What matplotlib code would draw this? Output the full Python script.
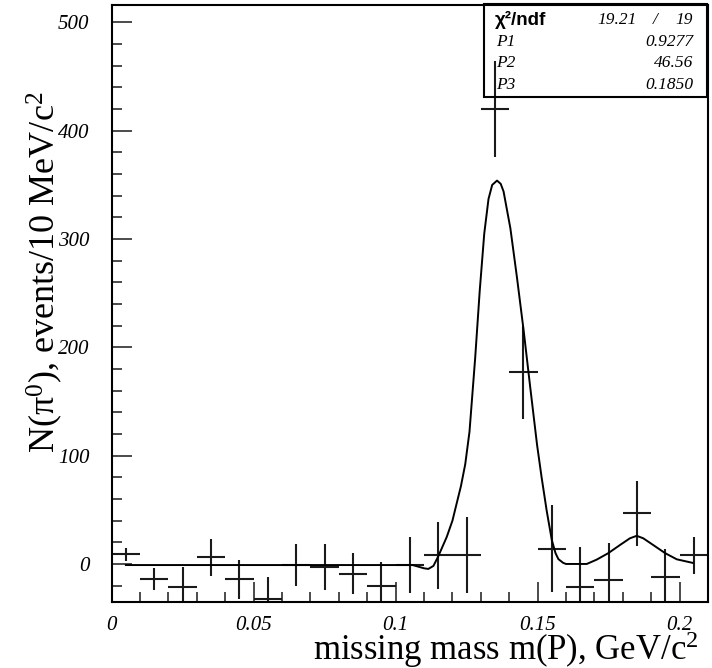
import matplotlib
matplotlib.use('Agg')
import matplotlib.pyplot as plt
from matplotlib.ticker import MultipleLocator, FuncFormatter
from matplotlib.patches import Rectangle

plt.rcParams['font.family'] = ['Liberation Serif', 'DejaVu Serif']
plt.rcParams['mathtext.fontset'] = 'custom'
plt.rcParams['mathtext.rm'] = 'Liberation Serif'
plt.rcParams['mathtext.it'] = 'Liberation Serif:italic'

# histogram: missing mass bins (10 MeV), background-subtracted counts
bin_centers = [0.005, 0.015, 0.025, 0.035, 0.045, 0.055, 0.065, 0.075, 0.085, 0.095, 0.105,
               0.115, 0.125, 0.135, 0.145, 0.155, 0.165, 0.175, 0.185, 0.195, 0.205]
counts = [9, -14, -21, 6, -14, -32, -1, -3, -9, -20, -1,
          8, 8, 420, 177, 14, -21, -15, 47, -12, 8]
errors = [6, 10, 18, 17.5, 18, 20, 19, 21, 19, 22, 26,
          31, 35, 44, 43, 40, 37, 34, 30, 26, 17]
bin_half_width = 0.005

# fitted curve
fit_x = [0.005, 0.03, 0.06, 0.09, 0.106, 0.110, 0.1115, 0.1133, 0.115, 0.118,
         0.1200, 0.1215, 0.1230, 0.1245, 0.1260, 0.1280, 0.1296, 0.1312, 0.1327, 0.1340,
         0.1357, 0.1370, 0.1380, 0.1404, 0.1427, 0.1451, 0.1474, 0.1498, 0.1514, 0.1532,
         0.1550, 0.1563, 0.1573, 0.1590, 0.1600, 0.1673, 0.1708, 0.1749, 0.1790, 0.1825,
         0.1849, 0.1872, 0.1907, 0.1949, 0.1990, 0.2046]
fit_y = [-1, -1, -1, -1, -1, -4, -4.6, -1.8, 7, 25,
         40, 56, 72, 92, 122, 190, 252, 305, 337, 350,
         354, 351, 344, 310, 265, 215, 163, 110, 80, 49,
         22, 10, 4.5, 1, 0, 0, 4, 10, 17.5, 23.7,
         26, 23.7, 17.5, 10, 4.3, 1]

stat_names = ['P1', 'P2', 'P3']
stat_values = ['0.9277', '46.56', '0.1850']
chi2, ndf = '19.21', '19'

W, H = 712, 668
top_px, bot_px = 4.5, 602.3
fig = plt.figure(figsize=(W / 100, H / 100), dpi=100)
ax = fig.add_axes([111.7 / W, 1 - bot_px / H, (708 - 111.7) / W, (bot_px - top_px) / H])

ax.errorbar(bin_centers, counts, xerr=bin_half_width, yerr=errors, fmt='none',
            ecolor='#1a1a1a', elinewidth=1.5, capsize=0)
ax.plot(fit_x, fit_y, color='black', lw=1.4)

ax.set_xlim(0, 0.21)
ax.set_ylim(-35.4, 516.6)

ax.xaxis.set_major_locator(MultipleLocator(0.05))
ax.xaxis.set_minor_locator(MultipleLocator(0.01))
ax.yaxis.set_major_locator(MultipleLocator(100))
ax.yaxis.set_minor_locator(MultipleLocator(20))
ax.xaxis.set_major_formatter(FuncFormatter(lambda v, p: '%g' % round(v, 3)))
ax.yaxis.set_major_formatter(FuncFormatter(lambda v, p: '%g' % v))
ax.tick_params(which='both', direction='in', top=False, right=False, width=1.1, color='#1a1a1a')
ax.tick_params(which='major', length=14.4)
ax.tick_params(which='minor', length=7.2)
ax.tick_params(axis='x', which='major', pad=10, labelsize=15)
ax.tick_params(axis='y', which='major', pad=16, labelsize=15)
for lab in ax.get_xticklabels() + ax.get_yticklabels():
    lab.set_style('italic')
for s in ax.spines.values():
    s.set_linewidth(1.5)

fig.text(699 / W, 1 - 659.5 / H, 'missing mass m(P), GeV/c$^{2}$', ha='right', va='baseline', fontsize=25)
fig.text(45 / W, 1 - 272 / H, 'N(π$^{0}$), events/10 MeV/c$^{2}$', rotation=90,
         ha='center', va='center', fontsize=26)

# stats box
fig.patches.append(Rectangle((484 / W, 1 - 96.7 / H), (707 - 484) / W, (96.7 - top_px) / H,
                             transform=fig.transFigure, fill=False, edgecolor='black', lw=1.5))
fig.text(495 / W, 1 - 19.5 / H, 'χ²/ndf', family=['Liberation Sans', 'DejaVu Sans'],
         weight='bold', fontsize=13.5, ha='left', va='center')
fig.text(636.7 / W, 1 - 19.5 / H, chi2, style='italic', fontsize=12.5, ha='right', va='center')
fig.text(655 / W, 1 - 19.5 / H, '/', style='italic', fontsize=12.5, ha='center', va='center')
fig.text(693 / W, 1 - 19.5 / H, ndf, style='italic', fontsize=12.5, ha='right', va='center')
for i, (name, val) in enumerate(zip(stat_names, stat_values)):
    yy = 1 - (41.7 + 21.7 * i) / H
    fig.text(496 / W, yy, name, style='italic', fontsize=12.5, ha='left', va='center')
    fig.text(693 / W, yy, val, style='italic', fontsize=12.5, ha='right', va='center')

fig.savefig('out.png', dpi=100)
